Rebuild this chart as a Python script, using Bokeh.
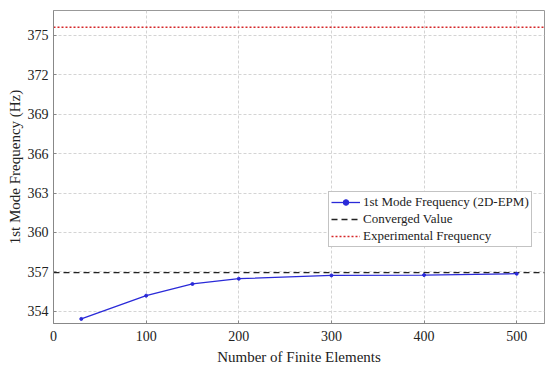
from bokeh.plotting import figure
from bokeh.models import Range1d, FixedTicker, Legend, LegendItem
from bokeh.embed import file_html
from bokeh.resources import INLINE

elements = [30, 100, 150, 200, 300, 400, 500]
freq = [353.42, 355.19, 356.08, 356.48, 356.73, 356.76, 356.86]
converged = 356.94
experimental = 375.63
x_ticks = [0, 100, 200, 300, 400, 500]
y_ticks = [354, 357, 360, 363, 366, 369, 372, 375]

FONT = "Liberation Serif"

p = figure(frame_width=491, frame_height=313, output_backend="svg", toolbar_location=None,
           x_range=Range1d(0, 530), y_range=Range1d(353.07, 376.9),
           min_border_left=53, min_border_right=6, min_border_top=10, min_border_bottom=46)

p.outline_line_color = "#999999"
p.outline_line_width = 1

for ax in (p.xaxis[0], p.yaxis[0]):
    ax.axis_line_color = "#888888"
    ax.major_tick_in = 3
    ax.major_tick_out = 0
    ax.minor_tick_line_color = None
    ax.major_tick_line_color = "#888888"
    ax.major_label_text_font = FONT
    ax.major_label_text_font_size = "14px"
    ax.major_label_text_color = "#222222"
    ax.axis_label_text_font = FONT
    ax.axis_label_text_font_size = "15px"
    ax.axis_label_text_font_style = "normal"
    ax.axis_label_text_color = "#222222"

p.xaxis.ticker = FixedTicker(ticks=x_ticks)
p.yaxis.ticker = FixedTicker(ticks=y_ticks)
p.xaxis.axis_label = "Number of Finite Elements"
p.yaxis.axis_label = "1st Mode Frequency (Hz)"
p.xaxis.major_label_standoff = 7
p.xaxis.axis_label_standoff = 5
p.yaxis.axis_label_standoff = 2
p.yaxis.major_label_standoff = 5

p.xgrid.grid_line_color = "#d4d4d4"
p.ygrid.grid_line_color = "#d4d4d4"
p.xgrid.grid_line_dash = "3 2"
p.ygrid.grid_line_dash = "3 2"

xs_full = [0, 530]
r_conv = p.line(xs_full, [converged, converged], line_color="#222222", line_width=1.3, line_dash="6 4")
r_exp = p.line(xs_full, [experimental, experimental], line_color="#d62728", line_width=1.5, line_dash="2 2")
r_line = p.line(elements, freq, line_color="#2a2ad8", line_width=1.3)
r_pts = p.scatter(elements, freq, size=3, fill_color="#2a2ad8", line_color="#2a2ad8")

legend = Legend(items=[
    LegendItem(label="1st Mode Frequency (2D-EPM)", renderers=[r_line, r_pts]),
    LegendItem(label="Converged Value", renderers=[r_conv]),
    LegendItem(label="Experimental Frequency", renderers=[r_exp]),
], location=(275, 76))
legend.label_text_font = FONT
legend.label_text_font_size = "13px"
legend.label_text_color = "#222222"
legend.label_height = 14
legend.label_standoff = 3
legend.glyph_width = 29
legend.glyph_height = 14
legend.spacing = 1
legend.padding = 2
legend.margin = 0
legend.border_line_color = "#888888"
legend.background_fill_alpha = 1
p.add_layout(legend)

open("out.html", "w").write(file_html(p, INLINE))
